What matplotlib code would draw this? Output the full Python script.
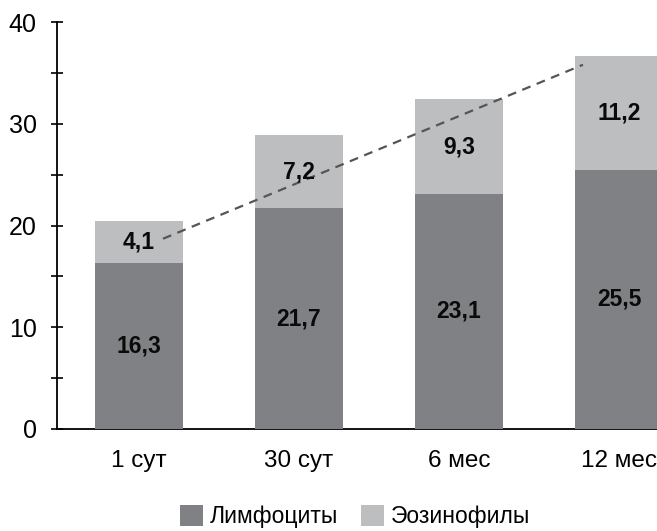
import matplotlib
matplotlib.use("Agg")
import matplotlib.pyplot as plt
from matplotlib.ticker import MultipleLocator
from matplotlib.patches import Patch

plt.rcParams['font.family'] = ['Liberation Sans Narrow', 'Liberation Sans', 'DejaVu Sans']

categories = ["1 сут", "30 сут", "6 мес", "12 мес"]
lymphocytes = [16.3, 21.7, 23.1, 25.5]
eosinophils = [4.1, 7.2, 9.3, 11.2]
series_names = ["Лимфоциты", "Эозинофилы"]

# dashed trend guide (category position, value)
trend_x = [0.15, 2.775]
trend_y = [18.7, 35.8]

dark = "#808184"
light = "#bdbec0"

fig = plt.figure(figsize=(6.57, 5.31), dpi=100)
ax = fig.add_axes([57 / 657, 1 - 429 / 531, 1 - 57 / 657, (429 - 22) / 531])

x = list(range(len(categories)))
w = 0.55
ax.bar(x, lymphocytes, width=w, color=dark, zorder=3)
ax.bar(x, eosinophils, width=w, bottom=lymphocytes, color=light, zorder=3)

for xi, lv, ev in zip(x, lymphocytes, eosinophils):
    ax.text(xi, lv / 2, f"{lv:.1f}".replace(".", ","), ha="center", va="center",
            fontsize=16.5, fontweight="bold", color="#0a0a0a", zorder=5)
    ax.text(xi, lv + ev / 2, f"{ev:.1f}".replace(".", ","), ha="center", va="center",
            fontsize=16.5, fontweight="bold", color="#0a0a0a", zorder=5)

ax.plot(trend_x, trend_y, linestyle=(0, (4, 3)), color="#555555", linewidth=1.6, zorder=4)

ax.set_xlim(-0.5125, 3.2375)
ax.set_ylim(0, 40)
ax.yaxis.set_major_locator(MultipleLocator(10))
ax.yaxis.set_minor_locator(MultipleLocator(5))
ax.set_xticks(x)
ax.set_xticklabels(categories)

for s in ("top", "right"):
    ax.spines[s].set_visible(False)
ax.spines["left"].set_linewidth(1.3)
ax.spines["bottom"].set_linewidth(1.3)
ax.spines["left"].set_zorder(2)
ax.spines["bottom"].set_zorder(2)

ax.tick_params(axis="y", which="both", direction="inout", length=9, width=1.2,
               labelsize=18, pad=10, colors="black")
ax.tick_params(axis="x", length=0, labelsize=17.5, pad=15)

handles = [Patch(facecolor=dark, edgecolor="none"), Patch(facecolor=light, edgecolor="none")]
fig.legend(handles, series_names, loc="lower center", bbox_to_anchor=(0.54, -0.012),
           ncol=2, frameon=False, fontsize=16.5, handlelength=1.0, handleheight=1.0,
           handletextpad=0.3, columnspacing=1.0, borderaxespad=0)

fig.savefig("out.png", dpi=100)
